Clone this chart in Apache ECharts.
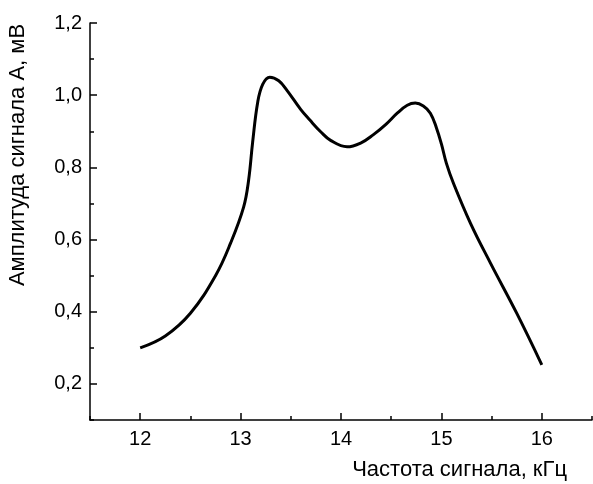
<!DOCTYPE html>
<html lang="ru">
<head>
    <meta charset="UTF-8"/>
    <script src="https://cdn.jsdelivr.net/npm/echarts@6/dist/echarts.min.js"></script>
    <title>Амплитуда сигнала</title>
    <style>
        html, body{
            margin: 0;
            padding: 0;
            background: #fff;
        }
        #chart{
            width: 593px;
            height: 484px;
        }
    </style>
</head>
<body>
<div id="chart"></div>
<script type="text/javascript">
    // частота, кГц
    var freq = [12.0, 12.25, 12.5, 12.75, 12.9, 13.03, 13.08, 13.12, 13.17, 13.22, 13.29, 13.38, 13.46,
        13.6, 13.69, 13.8, 13.9, 14.06, 14.2, 14.32, 14.45, 14.56, 14.66, 14.74, 14.82, 14.89,
        14.95, 15.0, 15.05, 15.12, 15.29, 15.49, 15.75, 16.0];
    // амплитуда, мВ
    var ampl = [0.30, 0.333, 0.396, 0.50, 0.59, 0.69, 0.765, 0.87, 0.98, 1.03, 1.05, 1.04, 1.014,
        0.96, 0.931, 0.898, 0.874, 0.857, 0.868, 0.890, 0.92, 0.950, 0.972, 0.978, 0.970, 0.950,
        0.91, 0.865, 0.811, 0.756, 0.645, 0.534, 0.396, 0.253];

    var xMajor = [12, 13, 14, 15, 16];
    var xMinor = [11.5, 12.5, 13.5, 14.5, 15.5, 16.5];
    var yMajor = [0.2, 0.4, 0.6, 0.8, 1.0, 1.2];
    var yMinor = [0.1, 0.3, 0.5, 0.7, 0.9, 1.1];

    var xTitle = 'Частота сигнала, кГц';
    var yTitle = 'Амплитуда сигнала А, мВ';

    var font = 'Liberation Sans, Arial, sans-serif';
    var lineData = [];
    for (var i = 0; i < freq.length; i++) {
        lineData.push([freq[i], ampl[i]]);
    }

    var myChart = echarts.init(document.getElementById('chart'));
    var option = {
        animation: false,
        backgroundColor: '#fff',
        grid: {left: 90, right: 1, top: 23, bottom: 64},
        xAxis: [
            {
                type: 'value', min: 11.5, max: 16.5, interval: 0.5,
                axisLine: {lineStyle: {color: '#000', width: 1.5}},
                axisTick: {inside: true, length: 7, customValues: xMajor, lineStyle: {color: '#000', width: 1.5}},
                axisLabel: {customValues: xMajor, color: '#000', fontSize: 20, fontFamily: font, margin: 9},
                splitLine: {show: false}
            },
            {
                type: 'value', min: 11.5, max: 16.5, interval: 0.5, position: 'bottom',
                axisLine: {show: false},
                axisTick: {inside: true, length: 4, customValues: xMinor, lineStyle: {color: '#000', width: 1.5}},
                axisLabel: {show: false},
                splitLine: {show: false}
            }
        ],
        yAxis: [
            {
                type: 'value', min: 0.1, max: 1.2, interval: 0.1,
                axisLine: {show: true, lineStyle: {color: '#000', width: 1.5}},
                axisTick: {show: true, inside: true, length: 7, customValues: yMajor, lineStyle: {color: '#000', width: 1.5}},
                axisLabel: {
                    customValues: yMajor, color: '#000', fontSize: 20, fontFamily: font, margin: 8,
                    formatter: function (v) { return v.toFixed(1).replace('.', ','); }
                },
                splitLine: {show: false}
            },
            {
                type: 'value', min: 0.1, max: 1.2, interval: 0.1, position: 'left',
                axisLine: {show: false},
                axisTick: {show: true, inside: true, length: 4, customValues: yMinor, lineStyle: {color: '#000', width: 1.5}},
                axisLabel: {show: false},
                splitLine: {show: false}
            }
        ],
        graphic: [
            {
                type: 'text', right: 26, top: 459,
                style: {text: xTitle, fill: '#000', font: '22px ' + font}
            },
            {
                type: 'text', x: 7, y: 155, rotation: Math.PI / 2,
                style: {text: yTitle, fill: '#000', font: '22px ' + font, align: 'center', verticalAlign: 'top'}
            }
        ],
        series: [
            {
                type: 'line',
                data: lineData,
                smooth: 0.4,
                showSymbol: false,
                lineStyle: {color: '#000', width: 3}
            }
        ]
    };
    myChart.setOption(option);
</script>
</body>
</html>
